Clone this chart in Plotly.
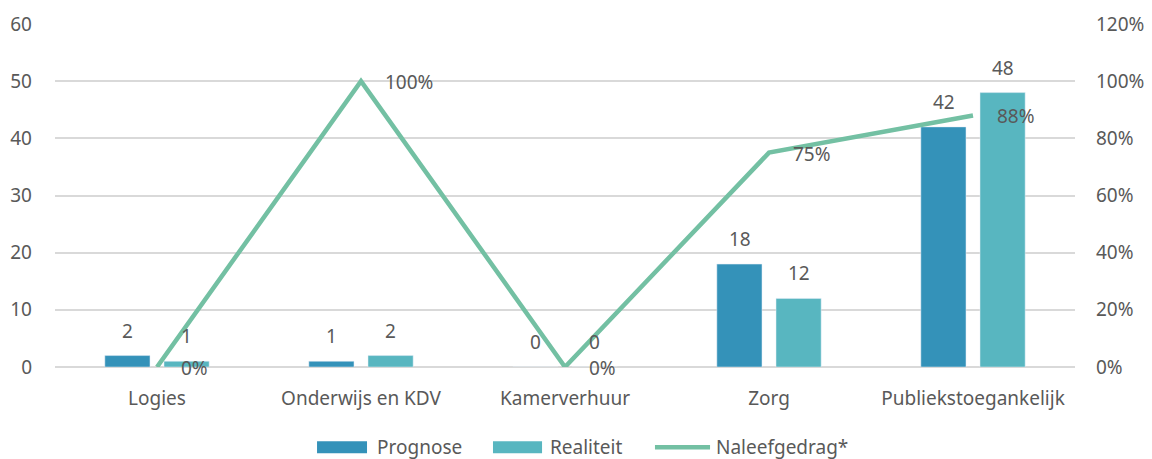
import plotly.graph_objects as go

categories = ["Logies", "Onderwijs en KDV", "Kamerverhuur", "Zorg", "Publiekstoegankelijk"]
prognose = [2, 1, 0, 18, 42]
realiteit = [1, 2, 0, 12, 48]
naleefgedrag = [0, 100, 0, 75, 88]
left_ticks = [0, 10, 20, 30, 40, 50, 60]
right_ticks = [0, 20, 40, 60, 80, 100, 120]
series_names = ["Prognose", "Realiteit", "Naleefgedrag*"]

FONT = "Noto Sans"
GREY = "#595959"
C_PROG = "#3492b9"
C_REAL = "#58b6c0"
C_LINE = "#73c0a3"
FS = 19

fig = go.Figure()
fig.add_trace(go.Bar(x=categories, y=prognose, name=series_names[0], marker_color=C_PROG))
fig.add_trace(go.Bar(x=categories, y=realiteit, name=series_names[1], marker_color=C_REAL))
fig.add_trace(go.Scatter(
    x=categories, y=naleefgedrag, name=series_names[2], mode="lines",
    line=dict(color=C_LINE, width=4.5), yaxis="y2", cliponaxis=False,
))

# bar value labels
for vals, shift in ((prognose, -29.5), (realiteit, 29.5)):
    for c, v in zip(categories, vals):
        fig.add_annotation(
            x=c, y=v, xref="x", yref="y", text=str(v), showarrow=False,
            xanchor="center", yanchor="bottom", xshift=shift, yshift=10,
            font=dict(color=GREY, size=FS, family=FONT),
        )
# line value labels
for c, v in zip(categories, naleefgedrag):
    fig.add_annotation(
        x=c, y=v, xref="x", yref="y2", text=f"{v}%", showarrow=False,
        xanchor="left", yanchor="middle", xshift=22, yshift=-1,
        font=dict(color=GREY, size=FS, family=FONT),
    )

# custom legend (wide swatches as in the reference)
LY = -0.234
fig.add_shape(type="rect", xref="paper", yref="paper", x0=0.2569, x1=0.3059,
              y0=LY - 0.0175, y1=LY + 0.0175, fillcolor=C_PROG, line=dict(width=0))
fig.add_shape(type="rect", xref="paper", yref="paper", x0=0.4294, x1=0.4775,
              y0=LY - 0.0175, y1=LY + 0.0175, fillcolor=C_REAL, line=dict(width=0))
fig.add_shape(type="line", xref="paper", yref="paper", x0=0.5882, x1=0.6422,
              y0=LY, y1=LY, line=dict(color=C_LINE, width=4.5))
for xp, name in zip((0.3137, 0.4833, 0.6461), series_names):
    fig.add_annotation(
        x=xp, y=LY, xref="paper", yref="paper", text=name, showarrow=False,
        xanchor="left", yanchor="middle", font=dict(color=GREY, size=FS, family=FONT),
    )

# page body has an 8px margin, so the figure is sized/shifted accordingly
fig.update_layout(
    width=1144, height=451,
    margin=dict(l=47, r=77, t=16, b=92, autoexpand=False),
    paper_bgcolor="white", plot_bgcolor="white",
    barmode="group", bargap=0.42, bargroupgap=0.237,
    font=dict(family=FONT, color=GREY, size=FS),
    showlegend=False,
    xaxis=dict(showgrid=False, showline=False, ticks="", ticklabelstandoff=18,
               tickfont=dict(size=FS, color=GREY)),
    yaxis=dict(range=[0, 60], tickvals=left_ticks, showgrid=True, gridcolor="#d9d9d9",
               gridwidth=1.5, zeroline=True, zerolinecolor="#d9d9d9", zerolinewidth=1.5,
               showline=False, ticks="", ticklabelstandoff=22,
               tickfont=dict(size=FS, color=GREY)),
    yaxis2=dict(range=[0, 120], tickvals=right_ticks, ticktext=[f"{t}%" for t in right_ticks],
                overlaying="y", side="right", showgrid=False, zeroline=False,
                showline=False, ticks="", ticklabelstandoff=20,
                tickfont=dict(size=FS, color=GREY)),
)

fig.write_html("out.html")
